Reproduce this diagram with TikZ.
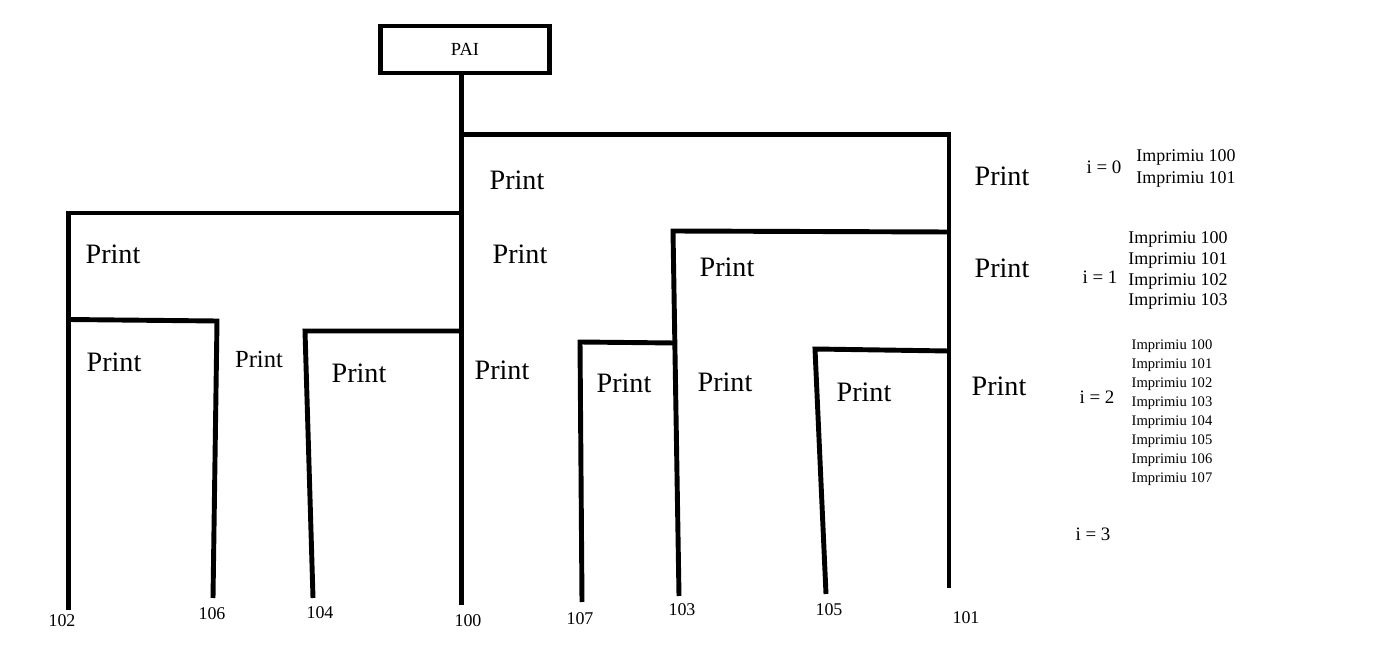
\documentclass[tikz,border=0pt]{standalone}
\usepackage{fontspec}
\setmainfont{Liberation Serif}
\usepackage{tikz}

\begin{document}
\begin{tikzpicture}[
  x=0.02cm, y=-0.02cm,
  wire/.style={line width=2.8pt, line join=miter},
  pr/.style={font=\fontsize{16}{19}\selectfont},
  prsmall/.style={font=\fontsize{14}{17}\selectfont},
  leaf/.style={font=\fontsize{10.2}{12}\selectfont},
  idx/.style={font=\fontsize{10.8}{13}\selectfont},
  outa/.style={align=center, font=\fontsize{10.2}{12.5}\selectfont},
  outb/.style={align=center, font=\fontsize{10.2}{11.9}\selectfont},
  outc/.style={align=center, font=\fontsize{8.3}{10.8}\selectfont}
]
  \useasboundingbox (0,0) rectangle (1389,648);

  \node[draw, line width=2.8pt, minimum width=3.38cm, minimum height=0.94cm,
    font=\fontsize{10.5}{12}\selectfont] (pai) at (465,49.5) {PAI};

  \coordinate (j0) at (461.5,134.5);
  \coordinate (j0r) at (949,134.5);
  \coordinate (jl) at (461.5,213);
  \coordinate (jlL) at (68.5,213);
  \coordinate (jl2) at (68.5,319.5);
  \coordinate (jl2r) at (217,321);
  \coordinate (jm) at (461.5,331);
  \coordinate (jmL) at (305,331);
  \coordinate (jr) at (949,232);
  \coordinate (jrL) at (673,231);
  \coordinate (jr2) at (675,343);
  \coordinate (jr2L) at (580,342);
  \coordinate (jq) at (949,351);
  \coordinate (jqL) at (815,349);
  \coordinate (e100) at (461.5,605);
  \coordinate (e101) at (949,588);
  \coordinate (e102) at (68.5,610);
  \coordinate (e103) at (679,596);
  \coordinate (e104) at (313,598);
  \coordinate (e105) at (826,594);
  \coordinate (e106) at (213,598);
  \coordinate (e107) at (582,602);

  \draw[wire] (pai.south -| j0) -- (e100);
  \draw[wire] (j0) -- (j0r) -- (e101);
  \draw[wire] (jl) -- (jlL) -- (e102);
  \draw[wire] (jl2) -- (jl2r) -- (e106);
  \draw[wire] (jm) -- (jmL) -- (e104);
  \draw[wire] (jr) -- (jrL) -- (e103);
  \draw[wire] (jr2) -- (jr2L) -- (e107);
  \draw[wire] (jq) -- (jqL) -- (e105);

  \node[leaf] (l100) at (468,621) {100};
  \node[leaf] (l101) at (966,618) {101};
  \node[leaf] (l102) at (62,621) {102};
  \node[leaf] (l103) at (682,610) {103};
  \node[leaf] (l104) at (320,613) {104};
  \node[leaf] (l105) at (829,610) {105};
  \node[leaf] (l106) at (212,614) {106};
  \node[leaf] (l107) at (580,619) {107};

  \node[pr] (p1) at (517,180) {Print};
  \node[pr] (p2) at (1002,176) {Print};
  \node[pr] (p3) at (113,254) {Print};
  \node[pr] (p4) at (520,254) {Print};
  \node[pr] (p5) at (727,267) {Print};
  \node[pr] (p6) at (1002,268) {Print};
  \node[pr] (p7) at (114,362) {Print};
  \node[prsmall] (p8) at (259,359) {Print};
  \node[pr] (p9) at (359,373) {Print};
  \node[pr] (p10) at (502,370) {Print};
  \node[pr] (p11) at (624,383) {Print};
  \node[pr] (p12) at (725,382) {Print};
  \node[pr] (p13) at (864,392) {Print};
  \node[pr] (p14) at (999,386) {Print};

  \node[idx] (i0) at (1104,167) {i = 0};
  \node[outa] (o0) at (1186,168) {Imprimiu 100\\Imprimiu 101};
  \node[idx] (i1) at (1100,277) {i = 1};
  \node[outb] (o1) at (1178,270.5) {Imprimiu 100\\Imprimiu 101\\Imprimiu 102\\Imprimiu 103};
  \node[idx] (i2) at (1097,397) {i = 2};
  \node[outc] (o2) at (1172,412.5) {Imprimiu 100\\Imprimiu 101\\Imprimiu 102\\Imprimiu 103\\Imprimiu 104\\Imprimiu 105\\Imprimiu 106\\Imprimiu 107};
  \node[idx] (i3) at (1093,534) {i = 3};
\end{tikzpicture}
\end{document}
